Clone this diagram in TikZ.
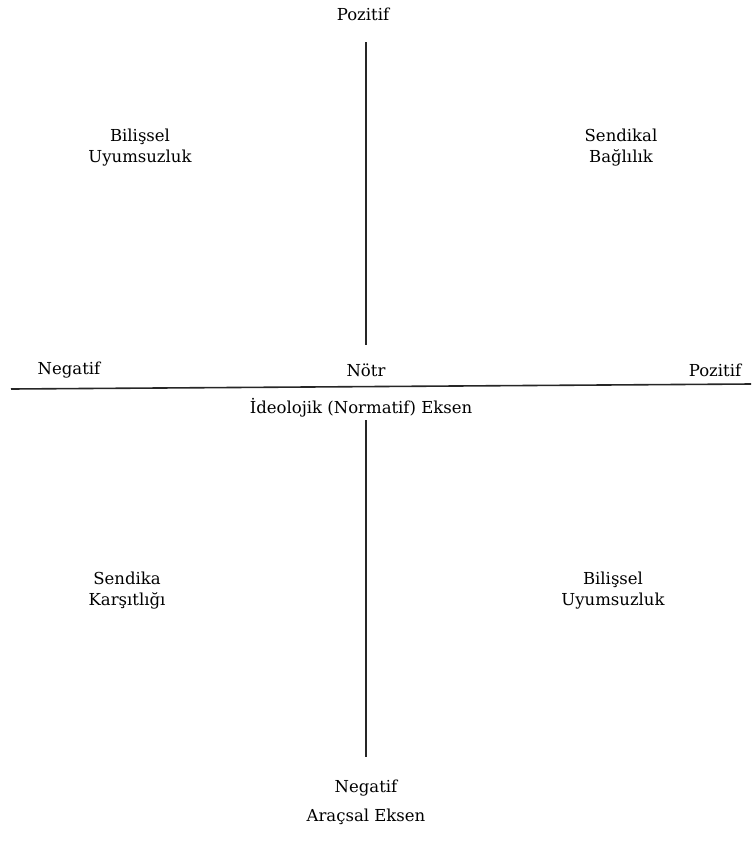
\documentclass[tikz,border=0pt]{standalone}
\usepackage{fontspec}
\setmainfont{DejaVu Serif}
\begin{document}
\begin{tikzpicture}[x=1pt,y=-1pt,
  lbl/.style={font=\fontsize{16.5}{21}\selectfont, inner sep=0pt, align=center},
  axis/.style={line width=1.2pt, black!85}]
\useasboundingbox (0,0) rectangle (753,844);
% labels of the upper axis
\node[lbl] (topPos) at (363,14) {Pozitif};
\node[lbl] (ulq) at (140,148) {Bilişsel\\Uyumsuzluk};
\node[lbl] (urq) at (621,148) {Sendikal\\Bağlılık};
\node[lbl] (leftNeg) at (69,370) {Negatif};
\node[lbl] (mid) at (366,370) {Nötr};
\node[lbl] (rightPos) at (715,370) {Pozitif};
% labels of the lower axis
\node[lbl] (ideo) at (361,408) {İdeolojik (Normatif) Eksen};
\node[lbl] (llq) at (127,591) {Sendika\\Karşıtlığı};
\node[lbl] (lrq) at (613,591) {Bilişsel\\Uyumsuzluk};
\node[lbl] (botNeg) at (366,788) {Negatif};
\node[lbl] (arac) at (366,817) {Araçsal Eksen};
% axes
\coordinate (vTop) at (366,42);
\coordinate (vMid) at (366,345);
\coordinate (hL) at (11,389);
\coordinate (hR) at (751,384);
\coordinate (vLowTop) at (366,420);
\coordinate (vLowBot) at (366,757);
\draw[axis] (vTop) -- (vMid);
\draw[axis, line width=1.6pt] (hL) -- (hR);
\draw[axis] (vLowTop) -- (vLowBot);
\end{tikzpicture}
\end{document}
